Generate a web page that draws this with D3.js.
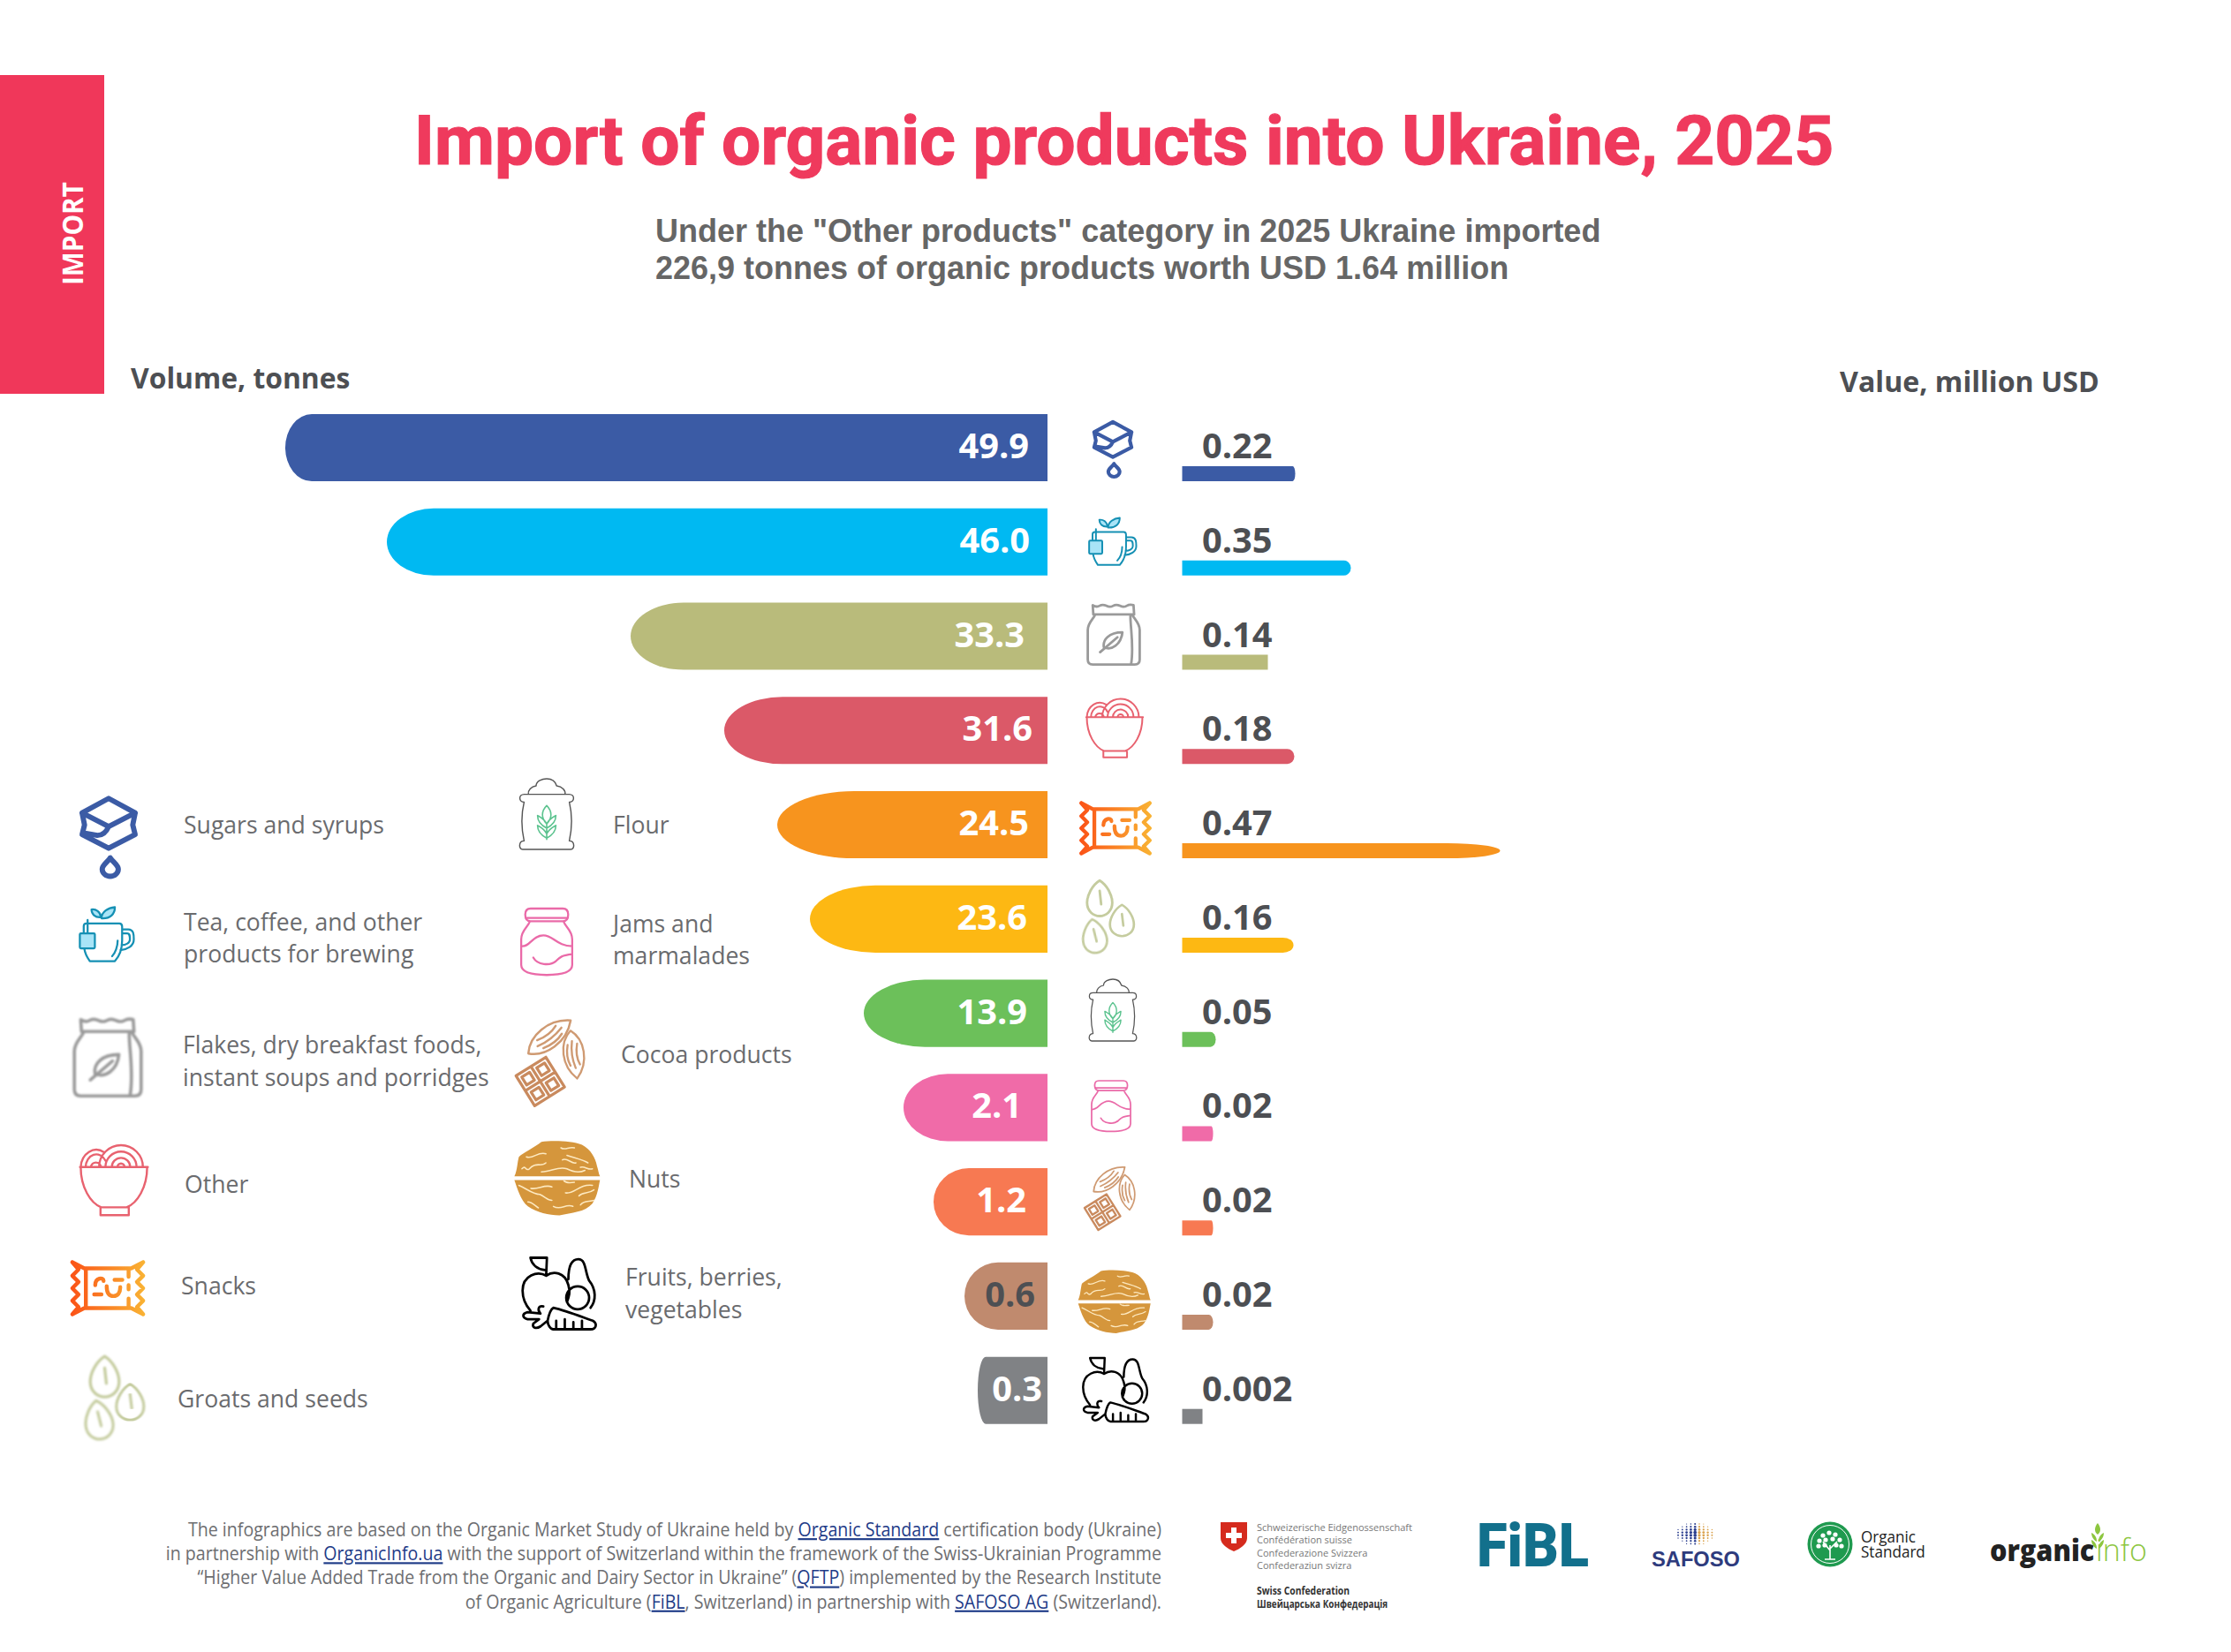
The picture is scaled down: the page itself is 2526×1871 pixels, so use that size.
<!DOCTYPE html>
<html>
<head>
<meta charset="utf-8">
<script src="https://cdn.jsdelivr.net/npm/d3@7"></script>
<style>
    html, body { margin: 0; padding: 0; background: #fff; }
    svg { display: block; font-family: "Open Sans", sans-serif; }
</style>
</head>
<body>
<div class="canvas"></div>
<script>
const categories = ["Sugars and syrups", "Tea, coffee, and other products for brewing",
    "Flakes, dry breakfast foods, instant soups and porridges", "Other", "Snacks", "Groats and seeds",
    "Flour", "Jams and marmalades", "Cocoa products", "Nuts", "Fruits, berries, vegetables"];
const volumeLabels = ["49.9", "46.0", "33.3", "31.6", "24.5", "23.6", "13.9", "2.1", "1.2", "0.6", "0.3"];
const valueLabels = ["0.22", "0.35", "0.14", "0.18", "0.47", "0.16", "0.05", "0.02", "0.02", "0.02", "0.002"];
const volumes = volumeLabels.map(Number);
const values = valueLabels.map(Number);
const iconNames = ["sugar", "tea", "bag", "bowl", "snack", "seeds", "flour", "jam", "cocoa", "nut", "fruit"];

// the bars of the original are not to scale, so both scales are piecewise
const volumeKnots = [0.3, 0.6, 1.2, 2.1, 13.9, 23.6, 24.5, 31.6, 33.3, 46.0, 49.9];
const volumeLengths = [79, 94, 129, 163, 208, 269, 306, 366, 472, 748, 863];
const valueKnots = [0.002, 0.02, 0.05, 0.14, 0.16, 0.18, 0.22, 0.35, 0.47];
const valueLengths = [23, 35, 38, 97, 126, 127, 128, 191, 360];

const colors = ["#3b5ba5", "#00b9f2", "#b9bb7b", "#db5968", "#f7941e", "#fdb813",
    "#6cc05a", "#f06ba8", "#f77952", "#c08a6e", "#808285"];
const volumeEndRx = [30, 53, 60, 66, 87, 74, 69, 50, 40, 38, 9];
const valueEndRx = [3, 8, 0, 8, 60, 12, 6, 2, 2, 5, 0];
const volumeLabelEnd = [1165, 1166, 1160, 1169, 1165, 1163, 1163, 1157, 1162, 1172, 1180];
const rowIcons = [[1260, 508, 64], [1259, 614, 55], [1261, 719, 70], [1262, 825, 67], [1263, 938, 57], [1256, 1040, 84],
    [1260, 1144, 70], [1258, 1253, 58], [1258, 1356, 70], [1261, 1474, 72], [1263, 1574, 72]];
const legendIcons = [[123, 947, 91], [120, 1059, 63], [122, 1198, 90], [129, 1337, 80], [122, 1459, 59], [131, 1585, 96],
    [619, 922, 80], [619, 1067, 76], [625, 1202, 95], [630, 1334, 85], [633, 1465, 81]];
const legendText = [
    [208, [["Sugars and syrups", 944]]],
    [208, [["Tea, coffee, and other", 1054], ["products for brewing", 1090]]],
    [207, [["Flakes, dry breakfast foods,", 1193], ["instant soups and porridges", 1230]]],
    [209, [["Other", 1351]]],
    [205, [["Snacks", 1466]]],
    [201, [["Groats and seeds", 1594]]],
    [694, [["Flour", 944]]],
    [694, [["Jams and", 1056], ["marmalades", 1092]]],
    [703, [["Cocoa products", 1204]]],
    [712, [["Nuts", 1345]]],
    [708, [["Fruits, berries,", 1456], ["vegetables", 1493]]]
];
const footerLines = [
    [["The infographics are based on the Organic Market Study of Ukraine held by "], ["Organic Standard", 1], [" certification body (Ukraine)"]],
    [["in partnership with "], ["OrganicInfo.ua", 1], [" with the support of Switzerland within the framework of the Swiss-Ukrainian Programme"]],
    [["“Higher Value Added Trade from the Organic and Dairy Sector in Ukraine” ("], ["QFTP", 1], [") implemented by the Research Institute"]],
    [["of Organic Agriculture ("], ["FiBL", 1], [", Switzerland) in partnership with "], ["SAFOSO AG", 1], [" (Switzerland)."]]
];
const swissLines = ["Schweizerische Eidgenossenschaft", "Confédération suisse", "Confederazione Svizzera", "Confederaziun svizra"];

const width = 2526, height = 1871;
const barEnd = 1186, valueStart = 1338.5, valueBarHeight = 17;

const svg = d3.select('.canvas').append("svg")
    .attr('width', width)
    .attr('height', height);

const defs = svg.append("defs");
const grad = defs.append("linearGradient").attr("id", "snackGrad")
    .attr("gradientUnits", "userSpaceOnUse")
    .attr("x1", -70).attr("x2", 70).attr("y1", 0).attr("y2", 0);
grad.append("stop").attr("offset", 0).attr("stop-color", "#fb5317");
grad.append("stop").attr("offset", 1).attr("stop-color", "#f9b233");
defs.append("filter").attr("id", "soft").append("feGaussianBlur").attr("stdDeviation", 0.9);

const y = d3.scaleBand().domain(categories).range([469, 1612.7]).paddingInner(0.2875).paddingOuter(0);
const xVolume = d3.scaleLinear().domain(volumeKnots).range(volumeLengths);
const xValue = d3.scaleLinear().domain(valueKnots).range(valueLengths);

const label = (parent, x, yy, str, o = {}) => {
    const t = parent.append("text")
        .attr("transform", `translate(${x},${yy}) scale(${o.sx || 1},1)`)
        .attr("text-anchor", o.anchor || "start")
        .attr("font-size", o.size || 28)
        .attr("font-weight", o.weight || 400)
        .attr("letter-spacing", o.ls || null)
        .attr("fill", o.fill || "#58595b")
        .text(str);
    if (o.family) t.style("font-family", o.family);
    return t;
};

// header
svg.append("rect").attr("x", 0).attr("y", 85).attr("width", 118).attr("height", 361).attr("fill", "#f0375a");
svg.append("text")
    .attr("transform", "translate(94,323) rotate(-90) scale(0.9,1)")
    .attr("font-size", 33).attr("font-weight", 700).attr("fill", "#fff")
    .text("IMPORT");
label(svg, 469, 186, "Import of organic products into Ukraine, 2025",
    { family: "Roboto", weight: 700, size: 78.5, fill: "#ef3a5d" })
    .attr("stroke", "#ef3a5d").attr("stroke-width", 1.2);
const subStyle = { family: "Liberation Sans", weight: 700, size: 36, fill: "#666" };
label(svg, 742, 274, "Under the \"Other products\" category in 2025 Ukraine imported", subStyle);
label(svg, 742, 316, "226,9 tonnes of organic products worth USD 1.64 million", subStyle);
label(svg, 148, 440, "Volume, tonnes", { weight: 700, size: 33, sx: 0.965, fill: "#4d4f53" });
label(svg, 2083, 444, "Value, million USD", { weight: 700, size: 33, sx: 0.975, fill: "#4d4f53" });

// volume bars, left side, flat at the axis and elliptical at the far end
const volumePath = (d, i) => {
    const x0 = barEnd - xVolume(d), t = y(categories[i]), h = y.bandwidth(), rx = volumeEndRx[i];
    return `M${barEnd},${t}H${x0 + rx}A${rx},${h / 2} 0 0 0 ${x0},${t + h / 2}A${rx},${h / 2} 0 0 0 ${x0 + rx},${t + h}H${barEnd}Z`;
};
svg.append("g").selectAll("path")
    .data(volumes)
    .enter()
    .append("path")
    .attr("d", volumePath)
    .attr("fill", (d, i) => colors[i]);

volumeLabels.forEach((d, i) => {
    label(svg, volumeLabelEnd[i], y(categories[i]) + y.bandwidth() / 2 + 12, d, {
        anchor: "end", weight: 700, size: 39, sx: 1.02,
        fill: d === "0.6" ? "#4d4f53" : "#fff"
    });
});

// value bars, right side, sitting on the bottom of the row
const valuePath = (d, i) => {
    const x1 = valueStart + xValue(d), b = y(categories[i]) + y.bandwidth(), t = b - valueBarHeight, rx = valueEndRx[i];
    const ry = valueBarHeight / 2;
    if (!rx) return `M${valueStart},${t}H${x1}V${b}H${valueStart}Z`;
    return `M${valueStart},${t}H${x1 - rx}A${rx},${ry} 0 0 1 ${x1},${t + ry}A${rx},${ry} 0 0 1 ${x1 - rx},${b}H${valueStart}Z`;
};
svg.append("g").selectAll("path")
    .data(values)
    .enter()
    .append("path")
    .attr("d", valuePath)
    .attr("fill", (d, i) => colors[i]);

valueLabels.forEach((d, i) => {
    label(svg, 1361, y(categories[i]) + 50, d, { weight: 700, size: 39, sx: 1.02, fill: "#4d4f53" });
});

// icons, drawn in a box of roughly 100 units high round the origin
const seedShape = "M0-24C10-18 17-4 17 6C17 18 8 24 0 24C-8 24-17 18-17 6C-17-4-10-18 0-24Z M0-10L2 8";
const podShape = "M-32 0C-18-16 12-18 32 0C12 18-18 16-32 0Z M-18 0C-6 3 6 3 18 0 M-14-6C-4-3 6-3 14-6 M-14 6C-4 9 6 9 14 6";
const iconParts = {
    sugar: [{ s: "#3b5ba5", w: 6.5, d: "M0-47L33-29L30-14L33-2L0 15L-33-2L-30-14L-33-29Z M-33-29L0-12L33-29 M0-12C-3-5-8-1-14-1L-31-4 M2 27C-2 33-8 36-8 41A10 9 0 0 0 12 41C12 36 6 33 2 27Z" }],
    tea: [
        { s: "#1590b4", w: 3.6, f: "#a8e4f7", d: "M-9-32C-20-31-26-38-26-46C-18-47-10-42-9-32Z M-8-30C-8-42 4-49 16-50C16-38 8-29-8-30Z" },
        { s: "#1590b4", w: 3.6, d: "M-40-5L-40-16Q-40-21-35-21L24-21Q29-21 29-15L29 10C29 25 24 38 16 47L-29 47C-34 40-38 32-39 24 M29-10L40-10C50-10 50 0 50 8C50 20 38 26 26 27 M30-3L38-3C43-3 43 2 43 8C43 14 36 18 28 18 M21 10C21 20 17 32 11 38 M-33-27L-33-3" },
        { s: "#1590b4", w: 3.6, f: "#a8e4f7", d: "M-45-3L-22-3Q-20-3-20-1L-20 22Q-20 24-22 24L-45 24Q-47 24-47 22L-47-1Q-47-3-45-3Z" }
    ],
    bag: [{ s: "#9a9a9a", w: 4, blur: 1, d: "M-34-48Q-28-44-23-47T-12-47T-1-47T10-47T21-47T32-48L33-33L-33-33Z M-30-33C-33-25-42-20-42-8L-42 40Q-42 48-34 48L34 48Q42 48 42 40L42-8C42-20 33-25 30-33 M27-30C27-10 33 20 28 48 M14-4C-8-4-18 8-16 20C-4 26 12 16 14-4Z M-22 28L6 4" }],
    bowl: [{ s: "#e8626f", w: 3, d: "M-48-19L48-19 M-47-19C-47 10-33 32-18 38L18 38C33 32 47 10 47-19 M-19 38L-19 49L21 49L21 38 M-21-19A31 31 0 0 1 41-19 M-12-19A22 22 0 0 1 32-19 M-3-19A13 13 0 0 1 23-19 M5-19A5 5 0 0 1 15-19 M-47-19A22 26 0 0 1-14-40 M-40-19A15 18 0 0 1-12-28 M-33-19A8 10 0 0 1-18-19" }],
    snack: [{ s: "url(#snackGrad)", w: 7.5, d: "M-68-50L-45-38L45-38L68-50 M-68 50L-45 38L45 38L68 50 M-68-50L-56-36L-68-24L-56-12L-68 0L-56 12L-68 24L-56 36L-68 50 M68-50L56-36L68-24L56-12L68 0L56 12L68 24L56 36L68 50 M-42-38L-42 38 M40-38L40-22 M40-6L40 2 M40 20L40 38 M-24-6C-24-20-8-22-8-14 M13-16L28-16 M-26 12L-12 12 M-2-4C-2 10 4 15 11 15C19 15 24 9 24-2" }],
    seeds: [
        { s: "#c5cc9f", w: 3.4, blur: 1, tr: "translate(-13,-27)", d: seedShape },
        { s: "#c5cc9f", w: 3.4, blur: 1, tr: "translate(17,3) scale(0.95,0.88)", d: seedShape },
        { s: "#c5cc9f", w: 3.4, blur: 1, tr: "translate(-20,24) rotate(-8) scale(0.95,0.95)", d: seedShape }
    ],
    flour: [
        { s: "#555", w: 1.8, d: "M-15-40C-15-47-6-50 0-50C6-50 12-47 14-40C22-39 27-33 26-28L32-28C40-28 40-17 32-17C36 0 36 20 32 38C40 38 40 50 34 50L-34 50C-40 50-40 38-32 38C-36 20-36 0-32-17C-40-17-40-28-32-28L-26-28C-27-33-22-39-15-40Z M-26-28L26-28" },
        { s: "#5cc38f", w: 2, d: "M0-12C8-4 8 6 0 14C-8 6-8-4 0-12Z M0 14C-4 6-10 4-13 2C-13 10-8 16 0 20C8 16 13 10 13 2C10 4 4 6 0 14Z M0 28C-4 20-10 18-13 16C-13 24-8 30 0 34C8 30 13 24 13 16C10 18 4 20 0 28Z M0 14L0 36" }
    ],
    jam: [{ s: "#ea6aa8", w: 3, d: "M-24-50L24-50Q32-50 32-41Q32-31 24-31L-24-31Q-32-31-32-41Q-32-50-24-50Z M-30-36L30-36 M-25-31C-28-22-38-18-38-4L-38 34C-38 46-20 49 0 49C20 49 38 46 38 34L38-4C38-18 28-22 25-31 M-38 6C-25 8-22-10-5-10C10-10 15 6 38 6 M-20 23C-14 34 5 36 14 28C20 22 22 20 38 18" }],
    cocoa: [
        { s: "#cf9a72", w: 2.6, tr: "translate(-3,-29) rotate(-38)", d: podShape },
        { s: "#cf9a72", w: 2.6, tr: "translate(26,-8) rotate(82) scale(0.9,0.95)", d: podShape },
        { s: "#c98a5e", w: 3.4, tr: "translate(-14,24) rotate(-32)", d: "M-21-21L21-21L21 21L-21 21Z M0-21L0 21 M-21 0L21 0 M-16-16L-5-16L-5-5L-16-5Z M5-16L16-16L16-5L5-5Z M-16 5L-5 5L-5 16L-16 16Z M5 5L16 5L16 16L5 16Z" }
    ],
    nut: [
        { f: "#d5963c", d: "M-56-2C-52-10-52-22-50-28C-44-34-30-40-20-48C-8-50 20-50 34-44C46-38 52-26 54-16C56-10 56-6 58-2Z M-56 3L58 3C56 12 55 24 48 34C38 46 20 46 4 50C-10 50-26 46-38 38C-48 30-52 14-56 3Z" },
        { s: "#fde9c0", w: 1.8, d: "M-40-28C-32-24-24-36-14-32 M6-40C12-36 16-42 24-40 M-46-12C-40-18-42-8-36-12C-28-22-20-14-14-20 M8-24C14-28 20-18 26-20 M14-30C26-26 36-24 42-20 M-20-8C-6-8 2-16 14-12C22-8 30-6 38-10 M32-14C38-16 42-10 48-12 M-50 10C-40 14-32 22-22 22C-14 26-12 30-6 30 M-34 14C-24 16-16 8-6 12 M12 20C24 22 30 8 48 10 M30 24C36 18 42 22 50 16 M-38 32C-32 32-28 38-24 40 M-4 38C6 44 12 34 22 38 M32 36C36 30 42 32 50 30 M10 4C14 8 20 6 24 6" }
    ],
    fruit: [{ s: "#000", w: 3.4, d: "M-18-25C-30-32-51-26-51-4C-51 8-47 16-40 24 M-18-25C-8-32 8-30 13-12C16-2 14 4 11 12 M-18-26L-17-50 M-17-50L-40-50C-38-40-30-34-20-33 M13-20C13-34 16-48 27-48C38-48 36-30 42-18C52-6 52 10 44 20 M10 6A16 16 0 1 1 42 6A16 16 0 1 1 10 6 M-22 18C-30 16-30 24-26 28L-44 26C-52 28-52 34-44 36L-28 36L-36 42C-38 48-32 50-26 46L-16 38 M-16 38C-14 28-12 22-8 20C10 24 35 34 47 38C54 42 52 50 44 50L-8 50C-12 50-16 44-16 38Z M-4 38L-4 48 M8 36L8 48 M20 40L20 48 M32 38L32 48" }]
};

const drawIcon = (name, [cx, cy, h]) => {
    const g = svg.append("g")
        .attr("transform", `translate(${cx},${cy}) scale(${h / 100})`);
    iconParts[name].forEach(p => {
        g.append("path")
            .attr("d", p.d)
            .attr("transform", p.tr || null)
            .attr("fill", p.f || "none")
            .attr("stroke", p.s || "none")
            .attr("stroke-width", p.w || 0)
            .attr("stroke-linecap", "round")
            .attr("stroke-linejoin", "round")
            .attr("filter", p.blur ? "url(#soft)" : null);
    });
};
iconNames.forEach((name, i) => {
    drawIcon(name, rowIcons[i]);
    drawIcon(name, legendIcons[i]);
});

// legend
legendText.forEach(([x, lines]) => {
    lines.forEach(([str, yy]) => label(svg, x, yy, str, { size: 28, sx: 0.95, fill: "#6a6b6e" }));
});

// footer note, right aligned
footerLines.forEach((parts, i) => {
    const t = svg.append("text")
        .attr("transform", `translate(1315,${1740 + i * 27.2}) scale(0.912,1)`)
        .attr("text-anchor", "end")
        .attr("font-size", 21.5)
        .attr("fill", "#6d6e71");
    parts.forEach(([str, isLink]) => {
        t.append("tspan")
            .attr("fill", isLink ? "#1f3c88" : null)
            .attr("text-decoration", isLink ? "underline" : null)
            .text(str);
    });
});

// logos
const logos = svg.append("g");
logos.append("path")
    .attr("d", "M1382,1724H1412V1742C1412,1749 1404,1754 1397,1757C1390,1754 1382,1749 1382,1742Z")
    .attr("fill", "#d52b1e");
logos.append("path")
    .attr("d", "M1394,1730H1400V1736H1406V1742H1400V1748H1394V1742H1388V1736H1394Z")
    .attr("fill", "#fff");
swissLines.forEach((str, i) => label(logos, 1423, 1734 + i * 14.4, str, { size: 11, fill: "#777" }));
label(logos, 1423, 1806, "Swiss Confederation", { size: 11.5, weight: 700, sx: 0.9, fill: "#333" });
label(logos, 1423, 1820.5, "Швейцарська Конфедерація", { size: 11.5, weight: 700, sx: 0.86, fill: "#333" });

label(logos, 1672, 1774, "FiBL", { family: "Roboto", weight: 900, size: 68, sx: 0.93, fill: "#12708c" });

// safoso dot grid
d3.range(9).forEach(col => d3.range(8).forEach(row => {
    const edge = Math.abs(row - 3.5) + Math.abs(col - 4) * 0.8;
    if (edge > 5.2) return;
    logos.append("circle")
        .attr("cx", 1900 + col * 4.8)
        .attr("cy", 1726 + row * 3.2)
        .attr("r", Math.max(0.6, 2 - edge * 0.28))
        .attr("fill", col < 5 ? "#2c3f8f" : "#d9a04a");
}));
label(logos, 1870, 1774, "SAFOSO", { family: "Liberation Sans", weight: 700, size: 23, sx: 1.03, fill: "#2e3b7d" });

// organic standard seal
logos.append("circle").attr("cx", 2072).attr("cy", 1749).attr("r", 25.5).attr("fill", "#1f9a4f");
logos.append("circle").attr("cx", 2072).attr("cy", 1749).attr("r", 21.5).attr("fill", "none").attr("stroke", "#fff").attr("stroke-width", 1);
logos.append("path")
    .attr("d", "M2072,1766V1750M2072,1756L2064,1746M2072,1754L2080,1746M2066,1766H2078")
    .attr("stroke", "#fff").attr("stroke-width", 1.6).attr("fill", "none");
[[2060, 1745], [2064, 1739], [2071, 1736], [2078, 1738], [2083, 1744], [2067, 1744], [2075, 1743], [2059, 1751], [2085, 1751], [2066, 1750], [2079, 1750]]
    .forEach(([cx, cy]) => logos.append("circle").attr("cx", cx).attr("cy", cy).attr("r", 2.6).attr("fill", "#fff"));
label(logos, 2107, 1747, "Organic", { size: 19, sx: 0.9, fill: "#222" });
label(logos, 2107, 1764, "Standard", { size: 19, sx: 0.9, fill: "#222" });

// organic info
label(logos, 2253, 1768, "organic", { weight: 800, size: 34, sx: 0.9, fill: "#222" });
label(logos, 2373, 1768, "info", { weight: 300, size: 34, fill: "#8dc63f" });
logos.append("path")
    .attr("d", "M2375,1725C2379,1730 2379,1735 2375,1738C2371,1735 2371,1730 2375,1725Z M2374,1746C2370,1744 2368,1740 2368,1736C2372,1738 2374,1741 2374,1746Z M2376,1746C2380,1744 2382,1740 2382,1736C2378,1738 2376,1741 2376,1746Z M2374,1754C2370,1752 2368,1748 2368,1744C2372,1746 2374,1749 2374,1754Z M2376,1754C2380,1752 2382,1748 2382,1744C2378,1746 2376,1749 2376,1754Z")
    .attr("fill", "#8dc63f");
</script>
</body>
</html>
